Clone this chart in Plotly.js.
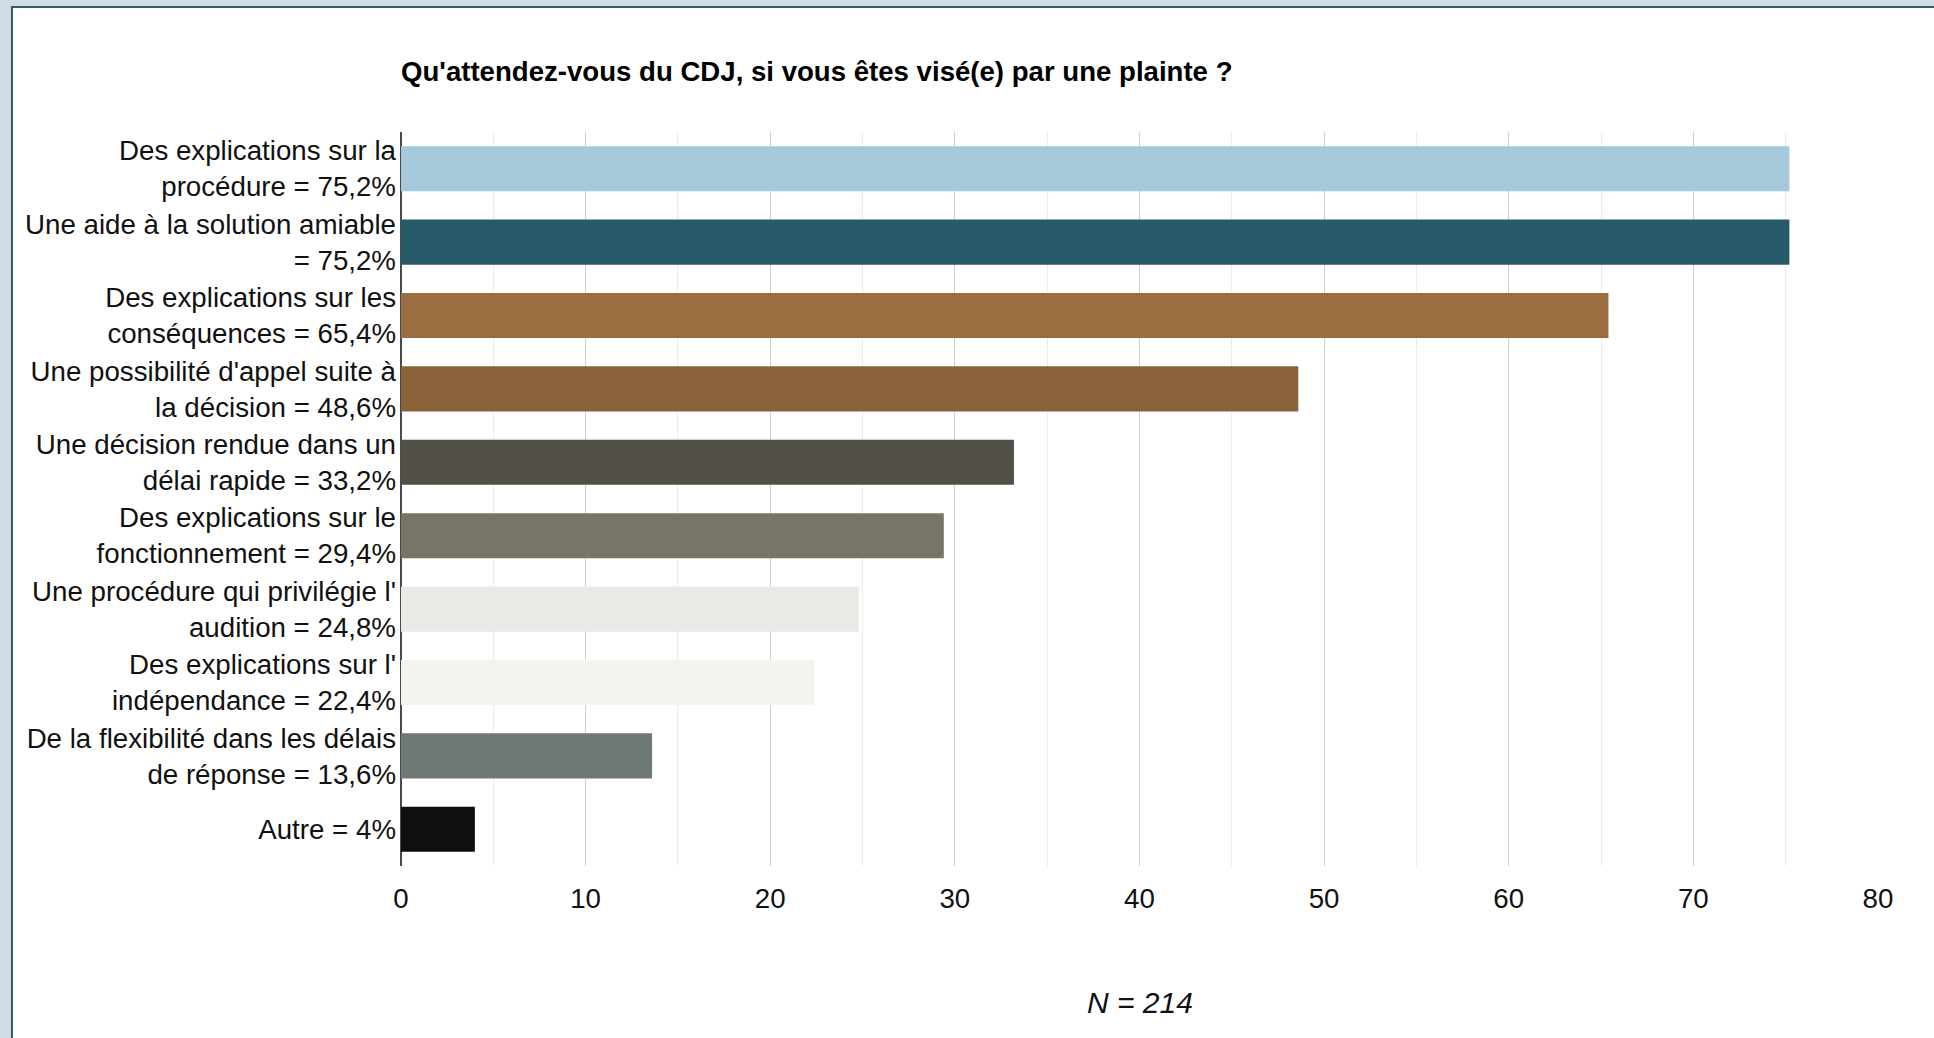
<!DOCTYPE html>
<html>
<head>
<meta charset="utf-8">
<script src="https://cdn.plot.ly/plotly-3.0.1.min.js"></script>
<style>
  html, body { margin:0; padding:0; width:1934px; height:1038px; overflow:hidden; background:#cfdbe5; }
  #panel { position:absolute; left:11px; top:6px; width:1960px; height:1100px; background:#ffffff; border:2px solid #2f5f6f; box-sizing:border-box; }
  #chart { position:absolute; left:0; top:0; width:1934px; height:1038px; }
</style>
</head>
<body>
<div id="panel"></div>
<div id="chart"></div>
<script>
const categories = [
  "Des explications sur la<br>procédure = 75,2%",
  "Une aide à la solution amiable<br>= 75,2%",
  "Des explications sur les<br>conséquences = 65,4%",
  "Une possibilité d'appel suite à<br>la décision = 48,6%",
  "Une décision rendue dans un<br>délai rapide = 33,2%",
  "Des explications sur le<br>fonctionnement = 29,4%",
  "Une procédure qui privilégie l'<br>audition = 24,8%",
  "Des explications sur l'<br>indépendance = 22,4%",
  "De la flexibilité dans les délais<br>de réponse = 13,6%",
  "Autre = 4%"
];
const values = [75.2, 75.2, 65.4, 48.6, 33.2, 29.4, 24.8, 22.4, 13.6, 4];
const barColors = ["#a5c9da", "#275a69", "#9a6e40", "#8a6239", "#524f48", "#787466", "#eae9e5", "#f3f3f0", "#6f7973", "#0f0f0f"];
const xTicks = [0, 10, 20, 30, 40, 50, 60, 70, 80];
const titleText = "Qu'attendez-vous du CDJ, si vous êtes visé(e) par une plainte ?";
const noteText = "<i>N = 214</i>";

const W = 1934, H = 1038;
const font = "Liberation Sans, Arial, Helvetica, sans-serif";

const trace = {
  type: 'bar',
  orientation: 'h',
  x: values,
  y: categories,
  marker: { color: barColors, line: { width: 0 } },
  hoverinfo: 'x+y'
};

const layout = {
  width: W, height: H,
  paper_bgcolor: 'rgba(0,0,0,0)',
  plot_bgcolor: 'rgba(0,0,0,0)',
  margin: { l: 401, r: 56, t: 132, b: 172, pad: 0 },
  bargap: 0.386,
  showlegend: false,
  font: { family: font, size: 27.7, color: '#111111' },
  title: {
    text: '<b>' + titleText + '</b>',
    font: { family: font, size: 27.6, color: '#000000' },
    xref: 'paper', x: 0, xanchor: 'left',
    yref: 'container', y: 1 - 71 / H, yanchor: 'middle'
  },
  xaxis: {
    range: [0, 80],
    tickvals: xTicks,
    ticktext: xTicks.map(String),
    showgrid: true,
    gridcolor: '#cfcfcf',
    gridwidth: 1,
    minor: { dtick: 5, tick0: 0, showgrid: true, gridcolor: '#ebebeb', gridwidth: 1 },
    zeroline: true,
    zerolinecolor: '#4a4a4a',
    zerolinewidth: 1.5,
    showline: false,
    ticks: '',
    ticklabelstandoff: 13,
    tickfont: { family: font, size: 27.7, color: '#111111' },
    fixedrange: true
  },
  yaxis: {
    type: 'category',
    autorange: 'reversed',
    showgrid: false,
    zeroline: false,
    showline: false,
    ticks: '',
    ticklabelstandoff: 4,
    tickfont: { family: font, size: 27.7, color: '#111111' },
    fixedrange: true
  },
  annotations: [{
    text: noteText,
    xref: 'paper', x: 0.5, xanchor: 'center',
    yref: 'paper', y: -(1002 - 866) / (866 - 132), yanchor: 'middle',
    showarrow: false,
    font: { family: font, size: 30, color: '#111111' }
  }]
};

Plotly.newPlot('chart', [trace], layout, { displayModeBar: false, staticPlot: true });
</script>
</body>
</html>
